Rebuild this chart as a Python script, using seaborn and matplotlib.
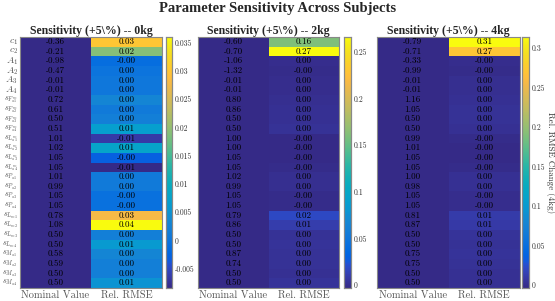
import numpy as np
import pandas as pd
import matplotlib
matplotlib.use("Agg")
import matplotlib.pyplot as plt
from matplotlib.colors import LinearSegmentedColormap
from matplotlib.ticker import MultipleLocator, FuncFormatter
import seaborn as sns

# === Datos ===
params = [r"$c_1$", r"$c_2$", r"$A_1$", r"$A_2$", r"$A_3$", r"$A_4$",
          r"$s_{F^{m}_{a1}}$", r"$s_{F^{m}_{a2}}$", r"$s_{F^{m}_{a3}}$", r"$s_{F^{m}_{a4}}$",
          r"$s_{L^{m}_{a1}}$", r"$s_{L^{m}_{a2}}$", r"$s_{L^{m}_{a3}}$", r"$s_{L^{m}_{a4}}$",
          r"$s_{P_{a1}}$", r"$s_{P_{a2}}$", r"$s_{P_{a3}}$", r"$s_{P_{a4}}$",
          r"$s_{L_{m1}}$", r"$s_{L_{m2}}$", r"$s_{L_{m3}}$", r"$s_{L_{m4}}$",
          r"$s_{M_{a1}}$", r"$s_{M_{a2}}$", r"$s_{M_{a3}}$", r"$s_{M_{a4}}$"]
columns = ["Nominal Value", "Rel. RMSE"]
loads = ["0kg", "2kg", "4kg"]

nominal_0kg = [-0.36, -0.21, -0.98, -0.47, -0.01, -0.01, 0.72, 0.61, 0.50, 0.51,
               1.01, 1.02, 1.05, 1.05, 1.01, 0.99, 1.05, 1.05,
               0.78, 1.08, 0.50, 0.50, 0.58, 0.59, 0.50, 0.50]
rmse_0kg = [0.030, 0.019, -0.001, 0.000, 0.0005, 0.0005, 0.003, 0.001, 0.002, 0.007,
            -0.0065, 0.008, -0.003, -0.0084, 0.001, 0.001, -0.0005, -0.0005,
            0.028, 0.036, 0.002, 0.006, 0.003, 0.002, 0.002, 0.005]

nominal_2kg = [-0.60, -0.70, -1.06, -1.32, -0.01, -0.01, 0.80, 0.86, 0.50, 0.50,
               1.00, 1.00, 1.05, 1.05, 1.02, 0.99, 1.05, 1.05,
               0.79, 0.86, 0.50, 0.50, 0.87, 0.74, 0.50, 0.50]
rmse_2kg = [0.160, 0.266, 0.000, -0.001, 0.000, 0.000, 0.001, 0.002, 0.002, 0.003,
            -0.002, -0.003, -0.002, -0.001, 0.001, 0.001, -0.001, -0.001,
            0.018, 0.010, 0.003, 0.004, 0.003, 0.003, 0.002, 0.004]

nominal_4kg = [-0.79, -0.71, -0.33, -0.99, -0.01, -0.01, 1.16, 1.05, 0.50, 0.50,
               0.99, 1.01, 1.05, 1.05, 1.00, 0.98, 1.05, 1.05,
               0.81, 0.87, 0.50, 0.50, 0.75, 0.75, 0.50, 0.50]
rmse_4kg = [0.314, 0.270, -0.001, -0.002, 0.000, 0.000, 0.002, 0.003, 0.003, 0.002,
            -0.002, -0.004, -0.003, -0.002, 0.001, 0.001, -0.001, -0.001,
            0.010, 0.009, 0.004, 0.003, 0.004, 0.003, 0.002, 0.002]

nominals = [nominal_0kg, nominal_2kg, nominal_4kg]
rmses = [rmse_0kg, rmse_2kg, rmse_4kg]
cbar_steps = [0.005, 0.05, 0.05]

# === Colormap tipo parula ===
parula_data = [
    [0.2081, 0.1663, 0.5292], [0.2116, 0.1898, 0.5777], [0.2123, 0.2138, 0.6270],
    [0.2081, 0.2386, 0.6771], [0.1959, 0.2645, 0.7279], [0.1707, 0.2919, 0.7792],
    [0.1253, 0.3242, 0.8303], [0.0591, 0.3598, 0.8683], [0.0117, 0.3875, 0.8820],
    [0.0060, 0.4086, 0.8828], [0.0165, 0.4266, 0.8786], [0.0329, 0.4430, 0.8720],
    [0.0498, 0.4586, 0.8641], [0.0629, 0.4737, 0.8554], [0.0723, 0.4887, 0.8467],
    [0.0779, 0.5040, 0.8384], [0.0793, 0.5200, 0.8312], [0.0749, 0.5375, 0.8263],
    [0.0641, 0.5570, 0.8240], [0.0488, 0.5772, 0.8228], [0.0343, 0.5966, 0.8199],
    [0.0265, 0.6137, 0.8135], [0.0239, 0.6287, 0.8038], [0.0231, 0.6418, 0.7913],
    [0.0228, 0.6535, 0.7768], [0.0267, 0.6642, 0.7607], [0.0384, 0.6743, 0.7436],
    [0.0590, 0.6838, 0.7254], [0.0843, 0.6928, 0.7062], [0.1133, 0.7015, 0.6859],
    [0.1453, 0.7098, 0.6646], [0.1801, 0.7177, 0.6424], [0.2178, 0.7250, 0.6193],
    [0.2586, 0.7317, 0.5954], [0.3022, 0.7376, 0.5712], [0.3482, 0.7424, 0.5473],
    [0.3953, 0.7459, 0.5244], [0.4420, 0.7481, 0.5033], [0.4871, 0.7491, 0.4840],
    [0.5300, 0.7491, 0.4661], [0.5709, 0.7485, 0.4494], [0.6099, 0.7473, 0.4337],
    [0.6473, 0.7456, 0.4188], [0.6834, 0.7435, 0.4044], [0.7184, 0.7411, 0.3905],
    [0.7525, 0.7384, 0.3768], [0.7858, 0.7356, 0.3633], [0.8185, 0.7327, 0.3498],
    [0.8507, 0.7299, 0.3360], [0.8824, 0.7274, 0.3217], [0.9139, 0.7258, 0.3063],
    [0.9450, 0.7261, 0.2886], [0.9739, 0.7314, 0.2666], [0.9938, 0.7455, 0.2403],
    [0.9990, 0.7653, 0.2164], [0.9955, 0.7861, 0.1967], [0.9880, 0.8066, 0.1794],
    [0.9789, 0.8271, 0.1633], [0.9697, 0.8481, 0.1475], [0.9626, 0.8705, 0.1309],
    [0.9589, 0.8949, 0.1132], [0.9598, 0.9218, 0.0948], [0.9661, 0.9514, 0.0755],
    [0.9763, 0.9831, 0.0538]]
parula = LinearSegmentedColormap.from_list("parula", parula_data)

# === Estilo ===
sns.set_style("white")
plt.rcParams["font.family"] = ["cmr10", "DejaVu Serif"]
plt.rcParams["mathtext.fontset"] = "cm"
plt.rcParams["axes.unicode_minus"] = False
plt.rcParams["axes.formatter.use_mathtext"] = True

GRAY = "#555555"

fig = plt.figure(figsize=(5.55, 3.01), dpi=100)
W, H = 555, 301

def px_axes(x0, y0, x1, y1):
    return fig.add_axes([x0 / W, 1 - y1 / H, (x1 - x0) / W, (y1 - y0) / H])

heat_px = [(20, 37, 162, 288), (198, 37, 339, 288), (377, 37, 520, 288)]
cbar_px = [(166, 37, 172, 288), (344, 37, 351, 288), (522, 37, 529, 288)]

for i in range(3):
    ax = px_axes(*heat_px[i])
    cax = px_axes(*cbar_px[i])
    rmse = np.array(rmses[i])
    nominal = np.array(nominals[i])
    # la columna nominal se pinta con el color mínimo
    color_df = pd.DataFrame({columns[0]: np.full(len(rmse), rmse.min()),
                             columns[1]: rmse}, index=params)
    annot = np.column_stack([[f"{v:.2f}" for v in nominal],
                             [f"{v:.2f}" for v in rmse]])
    sns.heatmap(color_df, ax=ax, cbar_ax=cax, cmap=parula, annot=annot, fmt="",
                xticklabels=True, yticklabels=(i == 0),
                annot_kws={"color": "black", "fontsize": 6.5})
    if i > 0:
        ax.set_yticks(np.arange(len(params)) + 0.5)
        ax.set_yticklabels([])
    ax.set_title(f"Sensitivity (+5\\%) -- {loads[i]}", fontsize=8.5,
                 fontweight="bold", family="Liberation Serif", pad=2)
    for sp in ax.spines.values():
        sp.set_visible(True)
        sp.set_color("#888888")
        sp.set_linewidth(0.8)
    ax.tick_params(axis="both", direction="in", length=2.5, width=0.5,
                   color="#333333", labelcolor=GRAY, pad=2,
                   left=True, bottom=True, right=True, top=True)
    ax.tick_params(axis="x", labelsize=7.5, labelrotation=0, pad=2)
    ax.tick_params(axis="y", labelsize=6, labelrotation=0, pad=1.5)
    if i == 0:
        # c y A algo más grandes, como en el original
        for lab in ax.get_yticklabels()[:6]:
            lab.set_fontsize(7)
    ax.set_xlabel("")
    ax.set_ylabel("")

    cax.yaxis.set_major_locator(MultipleLocator(cbar_steps[i]))
    cax.yaxis.set_major_formatter(FuncFormatter(lambda v, p: f"{v:g}" if abs(v) > 1e-12 else "0"))
    cax.tick_params(direction="in", length=2, width=0.5, labelsize=5.5,
                    labelcolor="#333333", pad=2)
    for sp in cax.spines.values():
        sp.set_visible(True)
        sp.set_color("#888888")
        sp.set_linewidth(0.8)

cax.set_ylabel("Rel. RMSE Change (4kg)", rotation=270, fontsize=6.5,
               color="#333333", labelpad=7)

fig.suptitle("Parameter Sensitivity Across Subjects", y=0.995, fontsize=10.5,
             fontweight="bold", family="Liberation Serif")

fig.savefig("out.png", dpi=100)
